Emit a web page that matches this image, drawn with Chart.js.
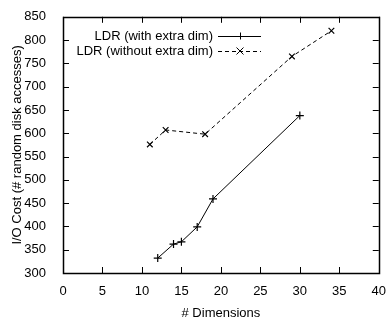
<!DOCTYPE html>
<html>
<head>
<meta charset="utf-8">
<script src="https://cdn.jsdelivr.net/npm/chart.js@4/dist/chart.umd.min.js"></script>
<style>
  body { margin: 0; background: #fff; }
  #wrap { width: 389px; height: 325px; position: relative; }
</style>
</head>
<body>
<div id="wrap"><canvas id="grafico"></canvas></div>
<script>
// dados
const dimsComExtra = [12, 14, 15, 17, 19, 30];
const custoComExtra = [332, 362, 367, 399, 459, 638];
const dimsSemExtra = [11, 13, 18, 29, 34];
const custoSemExtra = [576, 607, 598, 765, 820];
const rotulos = ['LDR (with extra dim)', 'LDR (without extra dim)'];

function pontos(xs, ys) {
    return xs.map((x, i) => ({ x: x, y: ys[i] }));
}

const fonte = 'Liberation Sans, Arial, sans-serif';

// moldura + ticks para dentro (estilo gnuplot)
const moldura = {
    id: 'moldura',
    afterDraw(chart) {
        const ctx = chart.ctx;
        const a = chart.chartArea;
        const sx = chart.scales.x, sy = chart.scales.y;
        ctx.save();
        ctx.strokeStyle = '#000';
        ctx.lineWidth = 1;
        ctx.beginPath();
        sx.ticks.forEach(t => {
            const px = Math.round(sx.getPixelForValue(t.value)) + 0.5;
            ctx.moveTo(px, a.bottom); ctx.lineTo(px, a.bottom - 6);
            ctx.moveTo(px, a.top); ctx.lineTo(px, a.top + 6);
        });
        sy.ticks.forEach(t => {
            const py = Math.round(sy.getPixelForValue(t.value)) + 0.5;
            ctx.moveTo(a.left, py); ctx.lineTo(a.left + 6, py);
            ctx.moveTo(a.right, py); ctx.lineTo(a.right - 6, py);
        });
        ctx.stroke();
        ctx.lineWidth = 1.5;
        ctx.strokeRect(Math.round(a.left) + 0.5, Math.round(a.top) + 0.5,
            Math.round(a.right - a.left), Math.round(a.bottom - a.top));

        // legenda
        ctx.font = '13px ' + fonte;
        ctx.fillStyle = '#000';
        ctx.textAlign = 'right';
        ctx.textBaseline = 'middle';
        chart.data.datasets.forEach((ds, i) => {
            const y = 36 + i * 15;
            ctx.fillText(ds.label, 213, y);
            ctx.beginPath();
            ctx.lineWidth = 1;
            ctx.setLineDash(ds.borderDash || []);
            ctx.moveTo(218, y + 0.5); ctx.lineTo(261, y + 0.5);
            ctx.stroke();
            ctx.setLineDash([]);
            ctx.beginPath();
            const cx = 240, r = 3.5;
            if (ds.pointStyle === 'cross') {
                ctx.moveTo(cx - r, y + 0.5); ctx.lineTo(cx + r, y + 0.5);
                ctx.moveTo(cx + 0.5, y - r); ctx.lineTo(cx + 0.5, y + r);
            } else {
                ctx.moveTo(cx - r, y - r); ctx.lineTo(cx + r, y + r);
                ctx.moveTo(cx - r, y + r); ctx.lineTo(cx + r, y - r);
            }
            ctx.stroke();
        });
        ctx.restore();
    }
};

const ctx = document.getElementById('grafico').getContext('2d');
new Chart(ctx, {
    type: 'line',
    data: {
        datasets: [{
            label: rotulos[0],
            data: pontos(dimsComExtra, custoComExtra),
            borderColor: '#000',
            borderWidth: 1,
            pointStyle: 'cross',
            pointRadius: 4,
            pointBorderColor: '#000',
            pointBorderWidth: 1.2,
            fill: false
        }, {
            label: rotulos[1],
            data: pontos(dimsSemExtra, custoSemExtra),
            borderColor: '#000',
            borderWidth: 1,
            borderDash: [4, 3],
            pointStyle: 'crossRot',
            pointRadius: 4,
            pointBorderColor: '#000',
            pointBorderWidth: 1.2,
            fill: false
        }]
    },
    options: {
        responsive: true,
        maintainAspectRatio: false,
        animation: false,
        layout: { padding: { left: 8, top: 14, right: 7, bottom: 0 } },
        plugins: { legend: { display: false }, tooltip: { enabled: false } },
        scales: {
            x: {
                type: 'linear',
                min: 0, max: 40,
                ticks: { stepSize: 5, color: '#000', font: { family: fonte, size: 13 }, padding: 3, maxRotation: 0 },
                grid: { display: false },
                border: { display: false },
                title: { display: true, text: '# Dimensions', color: '#000', font: { family: fonte, size: 13 }, padding: { top: 3 } },
                afterFit(scale) { scale.height = 52; }
            },
            y: {
                type: 'linear',
                min: 300, max: 850,
                ticks: { stepSize: 50, color: '#000', font: { family: fonte, size: 13 }, padding: 9 },
                grid: { display: false },
                border: { display: false },
                title: { display: true, text: 'I/O Cost (# random disk accesses)', color: '#000', font: { family: fonte, size: 13 }, padding: { top: 2, bottom: 0 } },
                afterFit(scale) { scale.width = 55; }
            }
        }
    },
    plugins: [moldura]
});
</script>
</body>
</html>
